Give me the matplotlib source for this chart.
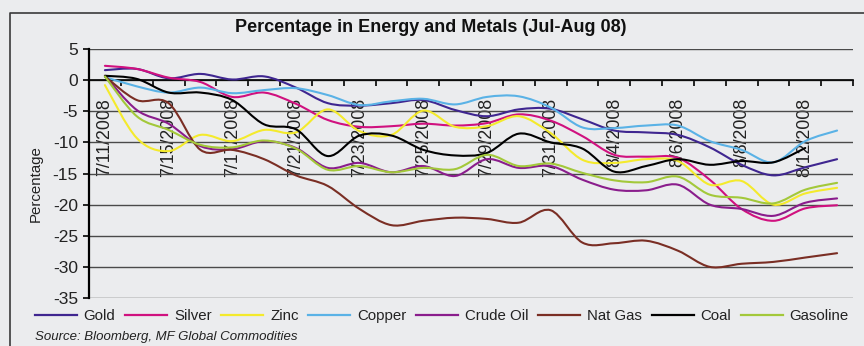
import numpy as np
import matplotlib
matplotlib.use("Agg")
import matplotlib.pyplot as plt
from matplotlib.path import Path
from matplotlib.patches import PathPatch
from matplotlib.lines import Line2D

plt.rcParams['font.family'] = ['Liberation Sans Narrow', 'Liberation Sans', 'DejaVu Sans']
plt.rcParams['axes.unicode_minus'] = False

dates = ["7/11/2008", "7/14/2008", "7/15/2008", "7/16/2008", "7/17/2008", "7/18/2008",
         "7/21/2008", "7/22/2008", "7/23/2008", "7/24/2008", "7/25/2008", "7/28/2008",
         "7/29/2008", "7/30/2008", "7/31/2008", "8/1/2008", "8/4/2008", "8/5/2008",
         "8/6/2008", "8/7/2008", "8/8/2008", "8/11/2008", "8/12/2008", "8/13/2008"]

gold = [1.6, 1.8, 0.3, 1.0, 0.1, 0.6, -1.2, -3.7, -4.1, -3.7, -3.2, -4.8,
        -5.8, -4.7, -4.6, -6.3, -8.1, -8.4, -8.8, -10.8, -13.6, -15.3, -14.0, -12.7]
silver = [2.3, 1.8, 0.4, -0.3, -2.7, -2.0, -3.8, -6.4, -7.5, -7.4, -7.0, -7.3,
          -6.9, -5.5, -6.5, -9.0, -12.0, -12.3, -12.5, -16.0, -20.7, -22.6, -20.6, -20.1]
zinc = [-0.8, -9.3, -11.4, -8.8, -9.8, -8.0, -8.4, -4.7, -8.2, -8.8, -4.9, -7.5,
        -7.4, -5.8, -8.5, -12.8, -13.3, -12.7, -13.0, -16.8, -16.2, -20.0, -18.2, -17.3]
copper = [0.5, -1.0, -2.0, -1.2, -2.1, -1.6, -1.3, -2.4, -4.0, -3.4, -3.0, -3.9,
          -2.7, -2.6, -4.4, -7.6, -7.7, -7.3, -7.3, -9.8, -11.2, -13.2, -9.8, -8.1]
crude_oil = [0.7, -4.8, -7.0, -10.6, -11.1, -9.8, -10.9, -14.1, -13.3, -14.8, -13.8, -15.4,
             -12.7, -14.1, -13.8, -16.0, -17.6, -17.7, -16.8, -20.0, -20.7, -21.8, -19.7, -19.0]
nat_gas = [0.6, -3.2, -3.7, -11.2, -11.2, -12.7, -15.3, -17.0, -20.7, -23.3, -22.6, -22.1,
           -22.3, -22.9, -20.9, -26.1, -26.2, -25.8, -27.4, -30.0, -29.5, -29.2, -28.5, -27.8]
coal = [0.7, 0.2, -2.0, -2.0, -3.2, -7.1, -7.9, -12.2, -8.9, -8.9, -11.2, -12.1,
        -11.7, -8.6, -10.0, -11.0, -14.7, -13.8, -12.7, -13.6, -13.0, -13.2, -10.9, np.nan]
gasoline = [0.6, -5.8, -8.0, -10.4, -10.8, -9.7, -11.0, -14.4, -13.8, -14.8, -14.1, -14.3,
            -12.0, -13.8, -13.4, -14.9, -16.1, -16.4, -15.5, -18.4, -18.9, -19.8, -17.6, -16.5]

series = [("Gold", gold, "#3f2690"),
          ("Silver", silver, "#d0117f"),
          ("Zinc", zinc, "#f4ea2c"),
          ("Copper", copper, "#5ab2e6"),
          ("Crude Oil", crude_oil, "#8a1d8c"),
          ("Nat Gas", nat_gas, "#7a2e24"),
          ("Coal", coal, "#000000"),
          ("Gasoline", gasoline, "#a3c83a")]

bg = "#ebecee"


def smooth_path(xs, ys):
    # excel-ish smoothed line: catmull-rom turned into bezier segments
    pts = np.column_stack([xs, ys])
    pts = pts[~np.isnan(pts[:, 1])]
    n = len(pts)
    verts = [pts[0]]
    codes = [Path.MOVETO]
    for k in range(n - 1):
        p0 = pts[k - 1] if k > 0 else pts[k]
        p1, p2 = pts[k], pts[k + 1]
        p3 = pts[k + 2] if k + 2 < n else pts[k + 1]
        verts += [p1 + (p2 - p0) / 6, p2 - (p3 - p1) / 6, p2]
        codes += [Path.CURVE4] * 3
    return Path(verts, codes)


fig = plt.figure(figsize=(8.64, 3.46), dpi=100, facecolor=bg)
ax = fig.add_axes([89 / 864, 1 - 298 / 346, 764 / 864, 249 / 346], facecolor=bg)

x = np.arange(len(dates))
handles = []
for name, vals, col in series:
    ax.add_patch(PathPatch(smooth_path(x, np.array(vals, dtype=float)), fill=False,
                           edgecolor=col, lw=1.5, zorder=3, capstyle='round'))
    handles.append(Line2D([], [], color=col, lw=1.6, label=name))

ax.set_xlim(-0.5, len(dates) - 0.5)
ax.set_ylim(-35, 5)
ax.set_yticks(range(-35, 6, 5))
ax.yaxis.grid(True, color="#4a4a4a", lw=1.0)
ax.set_axisbelow(True)

for s in ["top", "right"]:
    ax.spines[s].set_visible(False)
ax.spines["left"].set_linewidth(1.6)
ax.spines["bottom"].set_position(("data", 0))
ax.spines["bottom"].set_linewidth(1.2)
ax.spines["bottom"].set_zorder(2.6)

ax.set_xticks(np.arange(-0.5, len(dates), 1))
ax.set_xticklabels([])
ax.set_xticks(x[::2], minor=True)
ax.set_xticklabels(dates[::2], minor=True, rotation=90, va="top", ha="center")
ax.tick_params(axis="x", which="major", direction="out", length=4, width=1.2, color="black")
ax.tick_params(axis="x", which="minor", length=0, pad=13, labelsize=12.8, labelcolor="#222222")
ax.tick_params(axis="y", direction="out", length=4, width=1.2, labelsize=12.5,
               labelcolor="#222222", pad=4)

fig.text(0.499, 1 - 28 / 346, "Percentage in Energy and Metals (Jul-Aug 08)",
         ha="center", va="center", fontsize=13, fontweight="bold", color="#111111")
fig.text(36 / 864, 1 - 184 / 346, "Percentage", rotation=90, ha="center", va="center",
         fontsize=10.8, color="#222222")

fig.legend(handles=handles, loc="center left", bbox_to_anchor=(35 / 864, 1 - 316 / 346),
           ncol=8, frameon=False, fontsize=10.8, handlelength=2.8, handletextpad=0.45,
           columnspacing=0.65, borderpad=0, borderaxespad=0, labelcolor="#222222")

fig.text(35 / 864, 1 - 337 / 346, "Source: Bloomberg, MF Global Commodities",
         ha="left", va="center", fontsize=9.5, style="italic", color="#222222")

# outer frame (only left and top edges show)
fig.add_artist(Line2D([9.5 / 864, 9.5 / 864, 1], [0, 1 - 13 / 346, 1 - 13 / 346],
                      transform=fig.transFigure, color="#3a3a3a", lw=1.2))

fig.savefig("out.png", dpi=100, facecolor=bg)
